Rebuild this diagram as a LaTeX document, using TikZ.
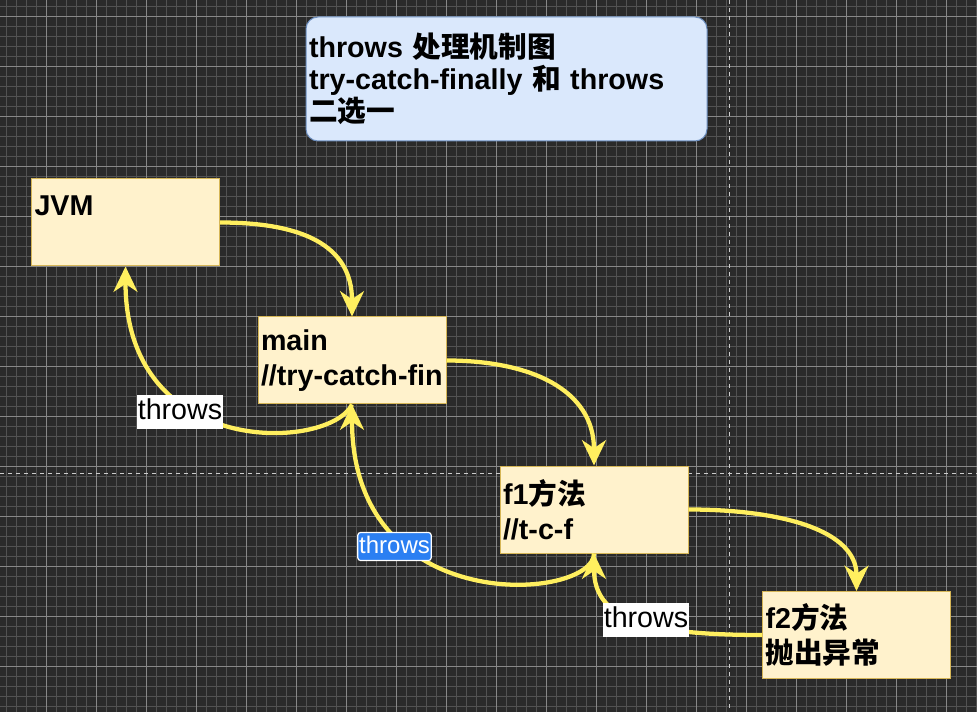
\documentclass[tikz,border=0pt]{standalone}
\usepackage{fontspec}
\setmainfont{Liberation Sans}
\newfontfamily\cjk{Noto Sans CJK SC}
\usepackage{xcolor}
\usepackage{tikz}
\usetikzlibrary{arrows.meta}

\definecolor{canvasbg}{HTML}{2A2A2A}
\definecolor{gridminor}{HTML}{525252}
\definecolor{gridmajor}{HTML}{888888}
\definecolor{boxfill}{HTML}{FFF2CC}
\definecolor{boxline}{HTML}{D6B656}
\definecolor{notefill}{HTML}{DAE8FC}
\definecolor{noteline}{HTML}{6C8EBF}
\definecolor{callyellow}{HTML}{FFEF5F}
\definecolor{selblue}{HTML}{2B7FF2}

\begin{document}
\begin{tikzpicture}[x=0.75pt, y=-0.75pt, >={Stealth[length=19pt, width=18pt, inset=6pt]}, every node/.style={font=\fontsize{21.5}{26}\selectfont}]
    \tikzstyle{method}=[rectangle, draw=boxline, fill=boxfill, line width=0.75pt, minimum width=141pt, minimum height=65.25pt, inner xsep=2.25pt, text width=136.5pt, align=left, font=\bfseries\fontsize{21.5}{26}\selectfont]
    \tikzstyle{note}=[rectangle, draw=noteline, fill=notefill, rounded corners=9pt, line width=0.75pt, minimum width=300.75pt, minimum height=93pt, inner xsep=2.25pt, text width=296.25pt, align=left, font=\bfseries\fontsize{21.5}{24}\selectfont]
    \tikzstyle{tag}=[fill=white, text=black, inner xsep=0.6pt, inner ysep=2pt, text height=16pt, text depth=5pt]
    \tikzstyle{seltag}=[fill=selblue, draw=white, line width=0.9pt, rounded corners=2pt, text=white, inner xsep=1pt, inner ysep=1.5pt, text height=14pt, text depth=4pt, font=\fontsize{18}{22}\selectfont]
    \tikzstyle{call}=[->, draw=callyellow, line width=3.2pt]

    % canvas with grid
    \fill[canvasbg] (0,0) rectangle (977,712);
    \useasboundingbox (0,0) rectangle (977,712);
    \foreach \gx in {6,16,...,976} \draw[gridminor, line width=0.6pt] (\gx,0) -- (\gx,712);
    \foreach \gy in {6,16,...,706} \draw[gridminor, line width=0.6pt] (0,\gy) -- (977,\gy);
    \foreach \gx in {46,96,...,946} \draw[gridmajor, line width=0.6pt] (\gx,0) -- (\gx,712);
    \foreach \gy in {16,66,...,666} \draw[gridmajor, line width=0.6pt] (0,\gy) -- (977,\gy);
    \draw[white!80!black, dashed, line width=0.6pt] (729,0) -- (729,712);
    \draw[white!80!black, dashed, line width=0.6pt] (0,473) -- (977,473);

    \node[note] (title) at (506.5,79) {throws {\cjk 处理机制图}\\try-catch-finally {\cjk 和} throws\\{\cjk 二选一}};

    \node[method] (jvm) at (125.5,222.5) {JVM\\~};
    \node[method] (main) at (352,360.5) {main\\//try-catch-fin};
    \node[method] (fone) at (594,509.5) {f1{\cjk 方法}\\//t-c-f};
    \node[method] (ftwo) at (856.5,635) {f2{\cjk 方法}\\{\cjk 抛出异常}};

    \draw[call] (jvm.east) .. controls +(81,0) and +(0,-72) .. (main.north);
    \draw[call] (main.east) .. controls +(84,0) and +(0,-76) .. (fone.north);
    \draw[call] (fone.east) .. controls +(92,0) and +(0,-61) .. (ftwo.north);

    \draw[call] (main.south) .. controls +(-22,46) and +(0,194) .. (jvm.south);
    \draw[call] (fone.south) .. controls +(0,47) and +(0,216) .. (main.south);
    \draw[call] (ftwo.west) .. controls +(-113,0) and +(0,67) .. (fone.south);

    \node[tag] (throwsa) at (180,412) {throws};
    \node[seltag] (throwsb) at (394.5,546.5) {throws};
    \node[tag] (throwsc) at (646,620) {throws};
\end{tikzpicture}
\end{document}
